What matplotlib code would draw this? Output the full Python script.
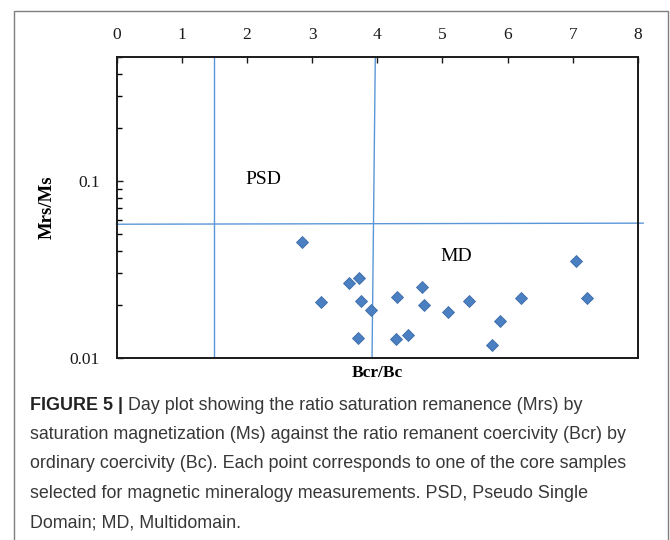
"""Day plot: Mrs/Ms against Bcr/Bc for the core samples."""

import matplotlib

matplotlib.use("Agg")
import matplotlib.pyplot as plt
from matplotlib.patches import Rectangle

# sample values
bcr_bc = [2.84, 3.13, 3.56, 3.72, 3.75, 3.90, 3.70, 4.31, 4.28, 4.47,
          4.69, 4.72, 5.08, 5.40, 5.76, 5.89, 6.21, 7.05, 7.22]
mrs_ms = [0.0450, 0.0206, 0.0266, 0.0284, 0.0211, 0.0187, 0.0129, 0.0221, 0.0128, 0.0135,
          0.0253, 0.0200, 0.0181, 0.0210, 0.0118, 0.0162, 0.0219, 0.0355, 0.0217]

# domain boundaries as drawn in the figure
psd_left_x = [1.49, 1.49]
psd_left_y = [0.5, 0.01]
md_left_x = [3.97, 3.92]
md_left_y = [0.5, 0.01]
psd_top_x = [0.0, 8.08]
psd_top_y = [0.0569, 0.0577]

x_ticks = [0, 1, 2, 3, 4, 5, 6, 7, 8]
y_ticks = [0.01, 0.1]
y_tick_labels = ["0.01", "0.1"]

caption_bold = "FIGURE 5 |"
caption_lines = [
    " Day plot showing the ratio saturation remanence (Mrs) by",
    "saturation magnetization (Ms) against the ratio remanent coercivity (Bcr) by",
    "ordinary coercivity (Bc). Each point corresponds to one of the core samples",
    "selected for magnetic mineralogy measurements. PSD, Pseudo Single",
    "Domain; MD, Multidomain.",
]

W, H = 670, 540
fig = plt.figure(figsize=(W / 100, H / 100), dpi=100)

# outer grey frame, open at the bottom
fig.add_artist(Rectangle((14 / W, -0.05), (668 - 14) / W, 1 - 11 / H + 0.05,
                         transform=fig.transFigure, fill=False,
                         edgecolor="#7f7f7f", linewidth=1.0))

ax = fig.add_axes([116.5 / W, 1 - 358 / H, (638 - 116.5) / W, (358 - 57) / H])
ax.set_yscale("log")
ax.set_xlim(0, 8)
ax.set_ylim(0.01, 0.5)

line_kw = dict(color="#5b97d8", linewidth=1.0, zorder=2)
ax.plot(psd_left_x, psd_left_y, **line_kw)
ax.plot(md_left_x, md_left_y, **line_kw)
ax.plot(psd_top_x, psd_top_y, clip_on=False, **line_kw)

ax.plot(bcr_bc, mrs_ms, linestyle="none", marker="D", markersize=6.3,
        markerfacecolor="#4a7fc1", markeredgecolor="#3d6ca8",
        markeredgewidth=0.6, zorder=3)

serif = "Liberation Serif"
ax.text(2.26, 0.1014, "PSD", family=serif, fontsize=14, ha="center", va="center")
ax.text(5.21, 0.0373, "MD", family=serif, fontsize=14, ha="center", va="center")

ax.xaxis.tick_top()
ax.set_xticks(x_ticks)
ax.set_yticks(y_ticks)
ax.set_yticklabels(y_tick_labels)
ax.tick_params(axis="x", which="both", direction="in", length=4, width=1,
               pad=10, labelsize=12.5, colors="#1a1a1a")
ax.tick_params(axis="y", which="major", direction="in", length=4, width=1,
               pad=12, labelsize=12.5, colors="#1a1a1a")
ax.tick_params(axis="y", which="minor", direction="in", length=3.5, width=1,
               labelleft=False)
for lab in ax.get_xticklabels() + ax.get_yticklabels():
    lab.set_family(serif)

for side in ["top", "bottom", "left", "right"]:
    ax.spines[side].set_linewidth(1.4)
    ax.spines[side].set_color("#1a1a1a")

ax.text(-0.133, 0.5, "Mrs/Ms", transform=ax.transAxes, rotation=90,
        family=serif, fontweight="bold", fontsize=13.5, ha="center", va="center")
ax.text(0.5, -0.05, "Bcr/Bc", transform=ax.transAxes,
        family=serif, fontweight="bold", fontsize=12.5, ha="center", va="center")

# caption
sans = "Liberation Sans"
cap_x = 30 / W
line_gap = 29.5
first_y = 405
cap_size = 12.9
t = fig.text(cap_x, 1 - first_y / H, caption_bold, family=sans, fontweight="bold",
             fontsize=cap_size, color="#222222", ha="left", va="center")
fig.canvas.draw()
bb = t.get_window_extent()
fig.text(bb.x1 / W, 1 - first_y / H, caption_lines[0], family=sans, fontsize=cap_size,
         color="#383838", ha="left", va="center")
for i, line in enumerate(caption_lines[1:], start=1):
    fig.text(cap_x, 1 - (first_y + i * line_gap) / H, line, family=sans,
             fontsize=cap_size, color="#383838", ha="left", va="center")

fig.savefig("out.png", dpi=100)
